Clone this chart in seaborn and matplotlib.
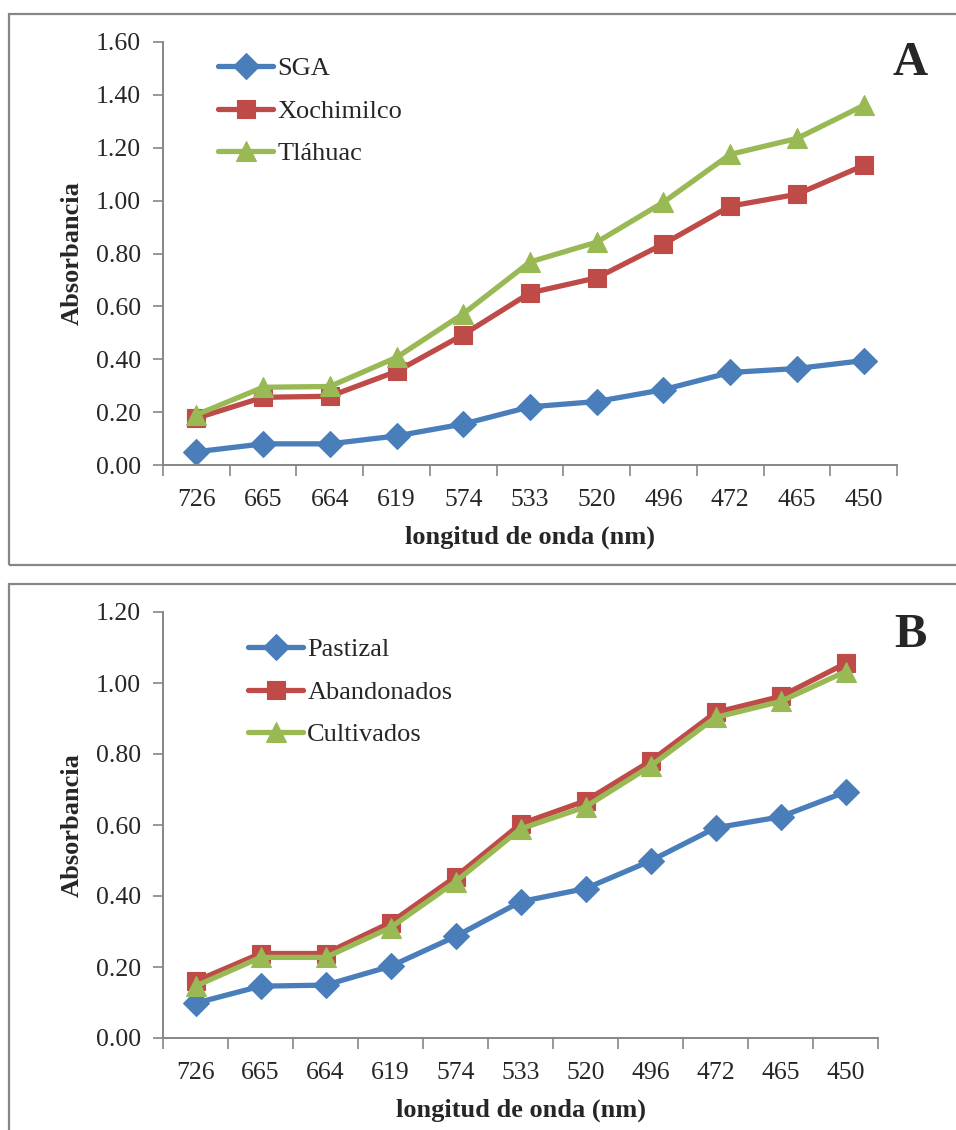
import numpy as np
import pandas as pd
import matplotlib
matplotlib.use("Agg")
import matplotlib.pyplot as plt
from matplotlib.patches import Rectangle
from matplotlib.ticker import FixedLocator, FixedFormatter, FormatStrFormatter
import seaborn as sns

# ---------------- data ----------------
wavelengths = ["726", "665", "664", "619", "574", "533", "520", "496", "472", "465", "450"]

series_a_names = ["SGA", "Xochimilco", "Tláhuac"]
sga = [0.05, 0.08, 0.08, 0.11, 0.155, 0.22, 0.24, 0.285, 0.35, 0.365, 0.395]
xochimilco = [0.177, 0.256, 0.26, 0.354, 0.493, 0.651, 0.708, 0.836, 0.979, 1.024, 1.133]
tlahuac = [0.19, 0.294, 0.297, 0.407, 0.572, 0.768, 0.843, 0.994, 1.175, 1.235, 1.36]

series_b_names = ["Pastizal", "Abandonados", "Cultivados"]
pastizal = [0.098, 0.146, 0.149, 0.202, 0.286, 0.384, 0.421, 0.499, 0.592, 0.623, 0.693]
abandonados = [0.16, 0.238, 0.238, 0.325, 0.454, 0.603, 0.668, 0.78, 0.917, 0.962, 1.055]
cultivados = [0.146, 0.227, 0.227, 0.311, 0.44, 0.589, 0.651, 0.766, 0.903, 0.948, 1.032]

yticks_a = [0.0, 0.2, 0.4, 0.6, 0.8, 1.0, 1.2, 1.4, 1.6]
yticks_b = [0.0, 0.2, 0.4, 0.6, 0.8, 1.0, 1.2]

# ---------------- style ----------------
sns.set_theme(style="white")
plt.rcParams["font.family"] = ["Liberation Serif", "DejaVu Serif"]

colors = ["#4A7EBB", "#BE4B48", "#98B954"]
markers = ["D", "s", "^"]
msizes = [13.5, 13.0, 15.0]
spine_c = "#868686"
FS = 18.5
W, H = 956, 1130

fig = plt.figure(figsize=(W / 100, H / 100), dpi=100)

# panel borders
fig.patches.append(Rectangle((9 / W, 1 - 565 / H), 1.2, (565 - 14) / H,
                             transform=fig.transFigure, fill=False,
                             edgecolor=spine_c, lw=1.6, zorder=0))
fig.patches.append(Rectangle((9 / W, 1 - 1200 / H), 1.2, (1200 - 584) / H,
                             transform=fig.transFigure, fill=False,
                             edgecolor=spine_c, lw=1.6, zorder=0))


def make_panel(rect, names, values, yticks, ymax, letter, letter_pos, leg_anchor):
    ax = fig.add_axes(rect)
    pos = np.arange(len(wavelengths))
    for name, vals, c, m, ms in zip(names, values, colors, markers, msizes):
        df = pd.DataFrame({"pos": pos, "val": vals})
        sns.lineplot(data=df, x="pos", y="val", ax=ax, color=c, marker=m,
                     markersize=ms, markeredgecolor=c, markerfacecolor=c,
                     markeredgewidth=0.8, linewidth=3.8, label=name, sort=False)
    n = len(wavelengths)
    ax.set_xlim(-0.5, n - 0.5)
    ax.set_ylim(0, ymax)
    # x: ticks at category boundaries, labels at centres
    ax.xaxis.set_major_locator(FixedLocator(np.arange(n + 1) - 0.5))
    ax.xaxis.set_major_formatter(FixedFormatter([""] * (n + 1)))
    ax.xaxis.set_minor_locator(FixedLocator(pos))
    ax.xaxis.set_minor_formatter(FixedFormatter(wavelengths))
    ax.tick_params(axis="x", which="major", length=8, width=1.2, color=spine_c,
                   direction="out", bottom=True)
    ax.tick_params(axis="x", which="minor", length=0, pad=17, labelsize=FS,
                   bottom=True)
    ax.set_yticks(yticks)
    ax.yaxis.set_major_formatter(FormatStrFormatter("%.2f"))
    ax.tick_params(axis="y", length=7, width=1.2, color=spine_c, direction="out",
                   pad=9, labelsize=FS, left=True)
    for s in ["top", "right"]:
        ax.spines[s].set_visible(False)
    for s in ["left", "bottom"]:
        ax.spines[s].set_color(spine_c)
        ax.spines[s].set_linewidth(1.4)
    ax.grid(False)
    ax.set_facecolor("none")

    ax.set_xlabel("longitud de onda (nm)", fontsize=19, fontweight="bold", va="center")
    ax.set_ylabel("Absorbancia", fontsize=19, fontweight="bold", va="center")
    bb = ax.get_position()
    axw, axh = bb.width * W, bb.height * H
    ax.xaxis.set_label_coords(0.5, -72 / axh)
    ax.yaxis.set_label_coords(-(bb.x0 * W - 72) / axw, 0.5)

    ax.legend(loc="upper left", bbox_to_anchor=leg_anchor,
              bbox_transform=fig.transFigure, frameon=False, fontsize=19,
              handlelength=2.1, handletextpad=0.15, labelspacing=0.72,
              borderpad=0, borderaxespad=0)
    fig.text(letter_pos[0] / W, 1 - letter_pos[1] / H, letter, fontsize=35,
             fontweight="bold", ha="center", va="center")
    return ax


make_panel([163 / W, 1 - 465 / H, (897 - 163) / W, (465 - 42) / H],
           series_a_names, [sga, xochimilco, tlahuac], yticks_a, 1.6,
           "A", (910, 63), (218 / W, 1 - 57 / H))

make_panel([163 / W, 1 - 1038 / H, (878 - 163) / W, (1038 - 612) / H],
           series_b_names, [pastizal, abandonados, cultivados], yticks_b, 1.2,
           "B", (910, 635), (248 / W, 1 - 638 / H))

fig.savefig("out.png", dpi=100)
